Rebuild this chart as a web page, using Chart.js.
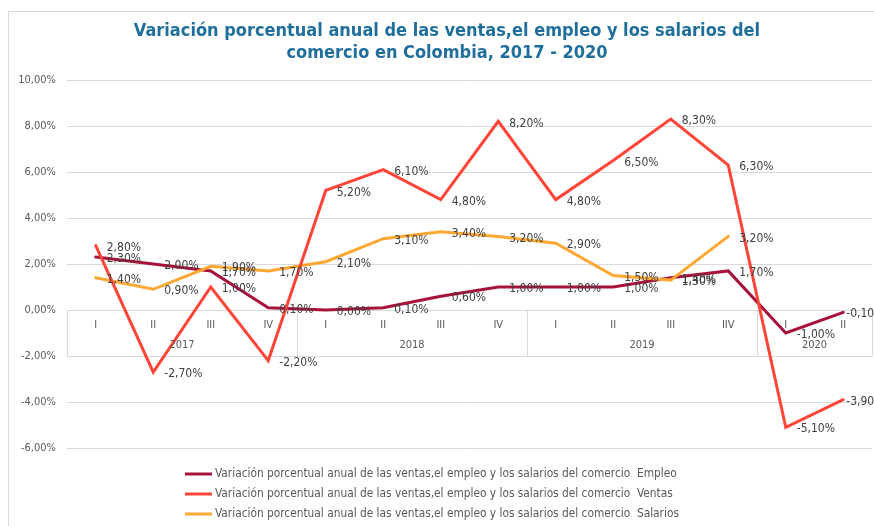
<!DOCTYPE html>
<html>
<head>
<meta charset="utf-8">
<script src="https://cdn.jsdelivr.net/npm/chart.js@4.4.1/dist/chart.umd.min.js"></script>
<style>
  html, body { margin: 0; padding: 0; background: #fff; }
  canvas { display: block; }
</style>
</head>
<body>
<canvas id="chart" width="874" height="526"></canvas>
<script>
// trimestres y años (eje x de dos niveles)
const quarters = ['I', 'II', 'III', 'IV', 'I', 'II', 'III', 'IV', 'I', 'II', 'III', 'IIV', 'I', 'II'];
const years = ['2017', '2018', '2019', '2020'];
const quartersPerYear = [4, 4, 4, 2];

// variación porcentual anual (%)
const empleo   = [2.3, 2.0, 1.7, 0.1, 0.0, 0.1, 0.6, 1.0, 1.0, 1.0, 1.4, 1.7, -1.0, -0.1];
const ventas   = [2.8, -2.7, 1.0, -2.2, 5.2, 6.1, 4.8, 8.2, 4.8, 6.5, 8.3, 6.3, -5.1, -3.9];
const salarios = [1.4, 0.9, 1.9, 1.7, 2.1, 3.1, 3.4, 3.2, 2.9, 1.5, 1.3, 3.2, null, null];

const seriesPrefix = 'Variación porcentual anual de las ventas,el empleo y los salarios del comercio  ';
const titleLines = [
  'Variación porcentual anual de las ventas,el empleo y los salarios del',
  'comercio en Colombia, 2017 - 2020'
];

const FONT = '"DejaVu Sans Condensed", "DejaVu Sans", sans-serif';
const fmt = v => v.toFixed(2).replace('.', ',') + '%';

// marco exterior, cajas del eje de categorías y etiquetas de año
const frame = {
  id: 'frame',
  beforeDraw(chart) {
    const ctx = chart.ctx;
    ctx.save();
    ctx.strokeStyle = '#D9D9D9';
    ctx.lineWidth = 1;
    ctx.strokeRect(8.5, 11.5, 1000, 1000);
    ctx.restore();
  },
  afterDatasetsDraw(chart) {
    const ctx = chart.ctx;
    const x = chart.scales.x, y = chart.scales.y;
    const top = Math.round(y.getPixelForValue(0));
    const bottom = Math.round(y.getPixelForValue(-2));
    const step = x.getPixelForValue(1) - x.getPixelForValue(0);
    ctx.save();
    ctx.strokeStyle = '#D9D9D9';
    ctx.lineWidth = 1;
    ctx.fillStyle = '#595959';
    ctx.font = '11px ' + FONT;
    ctx.textAlign = 'center';
    ctx.textBaseline = 'middle';
    let start = 0;
    const edges = [Math.round(x.getPixelForValue(0) - step / 2)];
    quartersPerYear.forEach((n, i) => {
      const end = start + n - 1;
      edges.push(Math.round(x.getPixelForValue(end) + step / 2));
      const cx = (x.getPixelForValue(start) + x.getPixelForValue(end)) / 2;
      ctx.fillText(years[i], cx, top + 35);
      start += n;
    });
    edges.forEach(px => {
      ctx.beginPath();
      ctx.moveTo(px + 0.5, top);
      ctx.lineTo(px + 0.5, bottom);
      ctx.stroke();
    });
    ctx.restore();
  }
};

// etiquetas de datos a la derecha de cada punto
const pointLabels = {
  id: 'pointLabels',
  afterDatasetsDraw(chart) {
    const ctx = chart.ctx;
    ctx.save();
    ctx.fillStyle = '#404040';
    ctx.font = '12px ' + FONT;
    ctx.textAlign = 'left';
    ctx.textBaseline = 'middle';
    chart.data.datasets.forEach((ds, di) => {
      const meta = chart.getDatasetMeta(di);
      meta.data.forEach((pt, i) => {
        const v = ds.data[i];
        if (v === null || v === undefined) return;
        const dx = i === ds.data.length - 1 ? 3 : 11;
        ctx.fillText(fmt(v), pt.x + dx, pt.y + 2);
      });
    });
    ctx.restore();
  }
};

// título y leyenda
const titleLegend = {
  id: 'titleLegend',
  afterDraw(chart) {
    const ctx = chart.ctx;
    ctx.save();
    ctx.fillStyle = '#1F6E9C';
    ctx.font = 'bold 18px ' + FONT;
    ctx.textAlign = 'center';
    ctx.textBaseline = 'middle';
    ctx.fillText(titleLines[0], 447, 31);
    ctx.fillText(titleLines[1], 447, 53);

    ctx.font = '11.8px ' + FONT;
    ctx.textAlign = 'left';
    chart.data.datasets.forEach((ds, i) => {
      const ly = 474 + i * 20;
      ctx.strokeStyle = ds.borderColor;
      ctx.lineWidth = 3;
      ctx.beginPath();
      ctx.moveTo(185, ly);
      ctx.lineTo(212, ly);
      ctx.stroke();
      ctx.fillStyle = '#595959';
      ctx.fillText(ds.label, 215, ly);
    });
    ctx.restore();
  }
};

new Chart(document.getElementById('chart'), {
  type: 'line',
  data: {
    labels: quarters,
    datasets: [
      { label: seriesPrefix + 'Empleo', data: empleo, borderColor: '#A8123A', order: 2 },
      { label: seriesPrefix + 'Ventas', data: ventas, borderColor: '#FF4438', order: 0 },
      { label: seriesPrefix + 'Salarios', data: salarios, borderColor: '#FFA733', order: 1 }
    ]
  },
  options: {
    responsive: false,
    animation: false,
    elements: {
      line: { borderWidth: 3, tension: 0, borderCapStyle: 'round', borderJoinStyle: 'miter' },
      point: { radius: 0, hoverRadius: 0 }
    },
    layout: { padding: { left: 8, top: 80, right: 2, bottom: 78 } },
    plugins: {
      legend: { display: false },
      title: { display: false },
      tooltip: { enabled: false }
    },
    scales: {
      x: {
        type: 'category',
        position: { y: 0 },
        offset: true,
        grid: { display: false },
        border: { display: false },
        ticks: {
          color: '#595959',
          font: { family: FONT, size: 11 },
          padding: 1,
          maxRotation: 0,
          autoSkip: false
        }
      },
      y: {
        min: -6,
        max: 10,
        ticks: {
          stepSize: 2,
          color: '#595959',
          font: { family: FONT, size: 11 },
          padding: 11,
          callback: v => fmt(v)
        },
        grid: { color: '#D9D9D9', drawTicks: false },
        border: { display: false },
        afterFit(s) { s.width = 59; }
      }
    }
  },
  plugins: [frame, pointLabels, titleLegend]
});
</script>
</body>
</html>
